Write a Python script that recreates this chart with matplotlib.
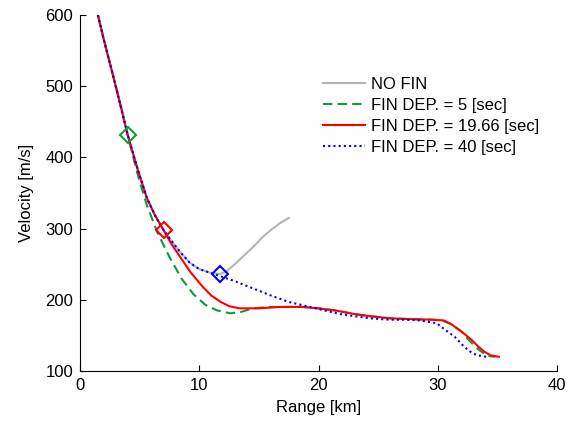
import matplotlib
matplotlib.use("Agg")
import matplotlib.pyplot as plt

plt.rcParams['font.family'] = ['Liberation Sans', 'DejaVu Sans']

# shared part of all trajectories (before fin deployment)
x_common = [1.5, 2.0, 2.8, 3.5, 4.0, 4.8, 5.6, 6.3, 7.0]
v_common = [600, 565, 513, 466, 431, 385, 343, 318, 298]

# no fin, continues after 7 km
x_nofin = x_common + [7.7, 8.4, 9.2, 10.0, 10.9, 11.7, 12.3, 13.3, 14.5, 15.3, 16.0, 16.8, 17.5]
v_nofin = v_common + [282, 267, 252, 243, 238, 236, 240, 255, 274, 288, 298, 308, 315]

# fin dep. = 5 sec
x_fin5 = x_common[:5] + [4.8, 5.6, 6.5, 7.5, 8.5, 9.5, 10.5, 11.5, 12.6, 13.5, 14.5, 15.7, 17.0,
                         18.6, 20.0, 21.4, 23.0, 24.3, 26.0, 27.5, 29.6, 30.5, 31.2, 32.0,
                         32.5, 33.2, 33.8, 34.3, 34.8]
v_fin5 = v_common[:5] + [378, 333, 294, 260, 230, 208, 193, 185, 181, 183, 188, 190, 190,
                         190, 188, 185, 180, 177, 174, 173, 172, 170, 165, 155,
                         145, 133, 125, 121, 120]

# fin dep. = 19.66 sec
x_fin19 = x_common + [7.6, 8.4, 9.3, 10.3, 11.0, 11.8, 12.5, 13.4, 15.0, 16.8, 18.6, 20.0,
                      21.4, 23.0, 24.3, 26.0, 27.5, 29.6, 30.5, 31.1, 32.0, 32.8, 33.4,
                      33.9, 34.4, 35.1]
v_fin19 = v_common + [280, 260, 238, 218, 206, 197, 191, 188, 188, 190, 190, 188,
                      185, 180, 177, 174, 173, 172, 171, 166, 155, 144, 134,
                      127, 122, 120]

# fin dep. = 40 sec
x_fin40 = x_nofin[:14] + [13.0, 14.5, 16.0, 17.5, 19.0, 20.5, 21.8, 23.0, 24.3, 26.0, 27.1,
                          28.5, 29.9, 30.6, 31.4, 32.2, 32.8, 33.3, 34.1]
v_fin40 = v_nofin[:14] + [226, 216, 206, 197, 191, 185, 180, 177, 174, 172, 172,
                          171, 167, 158, 148, 134, 126, 122, 120]

# deployment markers
dep_x = [4.0, 7.0, 11.7]
dep_v = [431, 298, 236]

c_gray = '#b3b3b3'
c_green = '#0f9a3a'
c_red = '#ff0000'
c_blue = '#0000ff'

fig = plt.figure(figsize=(5.73, 4.25), dpi=100)
ax = fig.add_axes([0.1396, 0.127, 0.833, 0.838])

ax.plot(x_nofin, v_nofin, color=c_gray, lw=1.5, label='NO FIN')
ax.plot(x_fin5, v_fin5, color=c_green, lw=1.5, ls=(0, (4.5, 2.5)), label='FIN DEP. = 5 [sec]')
ax.plot(x_fin19, v_fin19, color=c_red, lw=1.5, label='FIN DEP. = 19.66 [sec]')
ax.plot(x_fin40, v_fin40, color=c_blue, lw=1.5, ls=(0, (1, 1.5)), label='FIN DEP. = 40 [sec]')

for xm, vm, c in zip(dep_x, dep_v, [c_green, c_red, c_blue]):
    ax.plot(xm, vm, marker='D', ms=8, mfc='none', mec=c, mew=1.5)

ax.set_xlim(0, 40)
ax.set_ylim(100, 600)
ax.set_xticks([0, 10, 20, 30, 40])
ax.set_yticks([100, 200, 300, 400, 500, 600])
ax.set_xlabel('Range [km]', fontsize=12, labelpad=5)
ax.set_ylabel('Velocity [m/s]', fontsize=12, labelpad=8)
ax.tick_params(direction='in', length=4, labelsize=12, pad=5)
ax.spines['top'].set_visible(False)
ax.spines['right'].set_visible(False)

ax.legend(loc='upper left', bbox_to_anchor=(0.509, 0.826), frameon=False, fontsize=12,
          borderpad=0, borderaxespad=0, handlelength=2.5, handletextpad=0.4,
          labelspacing=0.36)

fig.savefig('out.png', dpi=100)
